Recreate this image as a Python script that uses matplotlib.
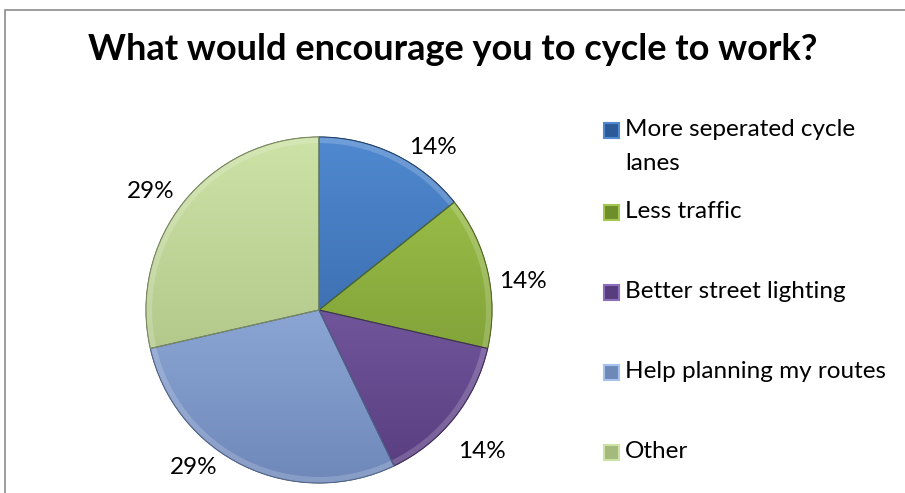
import numpy as np
import matplotlib
matplotlib.use("Agg")
import matplotlib.pyplot as plt
from matplotlib.colors import to_rgb
from matplotlib.patches import Rectangle, Wedge

# survey answers (counts)
categories = ["More seperated cycle\nlanes", "Less traffic", "Better street lighting",
              "Help planning my routes", "Other"]
counts = [1, 1, 1, 2, 2]
title = "What would encourage you to cycle to work?"

# light (top) / dark (bottom) shades for the bevel look
tops = ["#5089d0", "#a2c64e", "#8c6fba", "#a6c3ee", "#cde2a6"]
bottoms = ["#2c5a98", "#6e8e2c", "#573c7e", "#6f88ba", "#a3ba7c"]

W, H = 905, 493
fig = plt.figure(figsize=(W / 100, H / 100), dpi=100)
plt.rcParams['font.family'] = ['Lato', 'DejaVu Sans']

# chart frame (only top/left visible in the crop)
fig.patches.append(Rectangle((5 / W, -1), 2, 2 - 10 / H, transform=fig.transFigure,
                             fill=False, edgecolor='#8c8c8c', lw=1.2))

# pie axes: centre (319, 310) px, radius 173 px
cx, cy, r = 319, 310, 173
half = 200
ax = fig.add_axes([(cx - half) / W, (H - cy - half) / H, 2 * half / W, 2 * half / H])

wedges, _, pcts = ax.pie(counts, startangle=90, counterclock=False, radius=1,
                         colors=bottoms, autopct='%1.0f%%', pctdistance=1.2,
                         wedgeprops=dict(edgecolor='#3d3d3d', linewidth=0.5),
                         textprops=dict(fontsize=17.5, color='black'))
lim = half / r
ax.set_xlim(-lim, lim)
ax.set_ylim(-lim, lim)
ax.set_aspect('equal')
ax.axis('off')

# vertical gradient fill clipped to each wedge
yy = np.linspace(0, 1, 256)[:, None, None]
for w, ct, cb in zip(wedges, tops, bottoms):
    t, b = np.array(to_rgb(ct)), np.array(to_rgb(cb))
    img = np.repeat(t * (1 - yy) + b * yy, 2, axis=1)
    im = ax.imshow(img, extent=(-1, 1, -1, 1), aspect='auto', zorder=w.get_zorder() + 0.1,
                   interpolation='bilinear')
    im.set_clip_path(w)
    # soft bevel rim
    ax.add_patch(Wedge(w.center, w.r, w.theta1, w.theta2, width=0.035,
                       facecolor='white', alpha=0.18, edgecolor='none', zorder=3))
    ax.add_patch(Wedge(w.center, w.r, w.theta1, w.theta2, fill=False,
                       edgecolor=np.array(to_rgb(cb)) * 0.75, lw=0.8, zorder=4))
ax.set_xlim(-lim, lim)
ax.set_ylim(-lim, lim)

# label placement (angle in degrees, distance in radii) like Excel's best fit
label_pos = [(55, 1.15), (8, 1.19), (-41, 1.25), (-128.5, 1.16), (145, 1.19)]
for txt, (a, d) in zip(pcts, label_pos):
    txt.set_position((d * np.cos(np.radians(a)), d * np.sin(np.radians(a))))
    txt.set_ha('center')
    txt.set_va('center')

fig.text(453 / W, 1 - 50 / H, title, ha='center', va='center', fontsize=26,
         fontweight='bold')

# legend
leg_y = [130, 212, 292, 372, 452]
for lab, ct, cb, y in zip(categories, tops, bottoms, leg_y):
    fig.patches.append(Rectangle((604 / W, 1 - (y + 8) / H), 15 / W, 15 / H,
                                 transform=fig.transFigure, facecolor=cb,
                                 edgecolor=ct, lw=1.5))
    for k, line in enumerate(lab.split("\n")):
        fig.text(625 / W, 1 - (y + 33 * k) / H, line, ha='left', va='center',
                 fontsize=17.5)

fig.savefig("out.png", dpi=100)
